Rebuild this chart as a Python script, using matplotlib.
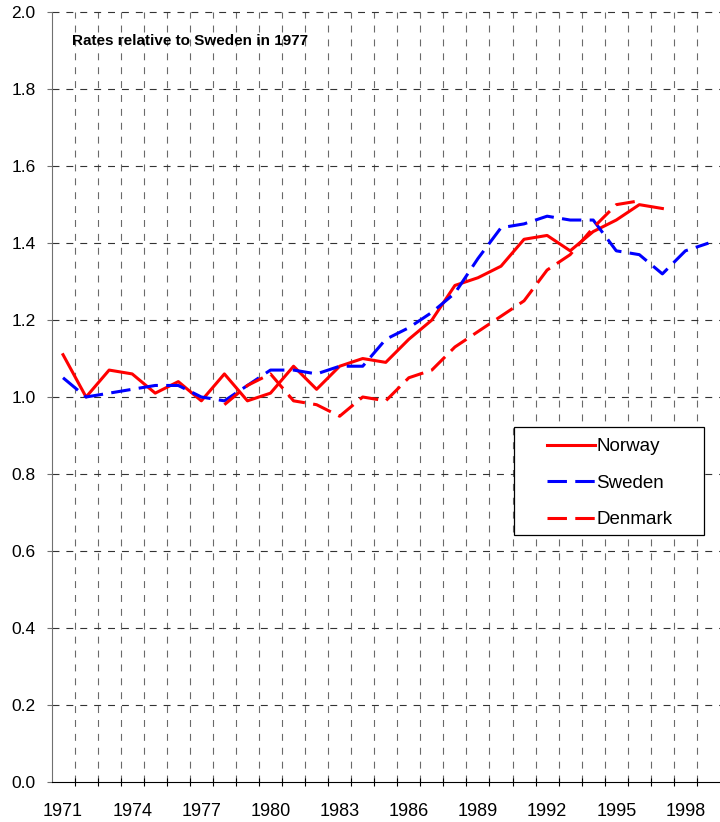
import numpy as np
import matplotlib
matplotlib.use("Agg")
from matplotlib import pyplot as plt
from matplotlib.patches import Rectangle

plt.rcParams["font.family"] = ["Liberation Sans", "DejaVu Sans"]
plt.rcParams["lines.scale_dashes"] = False

nan = np.nan
years = list(range(1971, 2000))
norway = [1.11, 1.00, 1.07, 1.06, 1.01, 1.04, 0.99, 1.06, 0.99, 1.01,
          1.08, 1.02, 1.08, 1.10, 1.09, 1.15, 1.20, 1.29, 1.31, 1.34,
          1.41, 1.42, 1.38, 1.43, 1.46, 1.50, 1.49, nan, nan]
sweden = [1.05, 1.00, 1.01, 1.02, 1.03, 1.03, 1.00, 0.99, 1.03, 1.07,
          1.07, 1.06, 1.08, 1.08, 1.15, 1.18, 1.22, 1.27, 1.36, 1.44,
          1.45, 1.47, 1.46, 1.46, 1.38, 1.37, 1.32, 1.38, 1.40]
denmark = [nan, nan, nan, nan, nan, nan, nan, 0.98, 1.03, 1.06,
           0.99, 0.98, 0.95, 1.00, 0.99, 1.05, 1.07, 1.13, 1.17, 1.21,
           1.25, 1.33, 1.37, 1.44, 1.50, 1.51, nan, nan, nan]
label_years = list(range(1971, 1999, 3))
y_ticks = [0.0, 0.2, 0.4, 0.6, 0.8, 1.0, 1.2, 1.4, 1.6, 1.8, 2.0]
note = "Rates relative to Sweden in 1977"

fig = plt.figure(figsize=(7.2, 8.22), dpi=100)
left, right = 51.5 / 720, 720 / 720
bottom, top = 1 - 781.7 / 822, 1 - 12.3 / 822
ax = fig.add_axes([left, bottom, right - left, top - bottom])

ax.set_xlim(years[0] - 0.5, years[-1] + 0.5)
ax.set_ylim(0, 2.0)

# grid lines, Excel style
for b in np.arange(years[0] + 0.5, years[-1], 1.0):
    ax.axvline(b, color="#6a6a6a", lw=0.8, dashes=(5, 5), zorder=1)
for v in y_ticks[1:]:
    ax.axhline(v, color="#333333", lw=0.8, dashes=(5, 5), zorder=1, clip_on=False)

lw = 2.2
ax.plot(years, norway, color="#ff0000", lw=lw, label="Norway", zorder=3)
ax.plot(years, sweden, color="#0000ff", lw=lw, dashes=(14, 6), label="Sweden", zorder=3)
ax.plot(years, denmark, color="#ff0000", lw=lw, dashes=(14, 6), label="Denmark", zorder=3)

for s in ["top", "right"]:
    ax.spines[s].set_visible(False)
ax.spines["left"].set_color("#707070")
ax.spines["bottom"].set_color("black")
ax.spines["left"].set_zorder(4)
ax.spines["bottom"].set_zorder(4)

ax.set_xticks(label_years)
ax.set_xticklabels([str(y) for y in label_years])
ax.set_xticks(np.arange(years[0] + 0.5, years[-1], 1.0), minor=True)
ax.tick_params(axis="x", which="major", length=0, pad=15, labelsize=13)
ax.tick_params(axis="x", which="minor", direction="inout", length=6, width=0.8, color="black")

ax.set_yticks(y_ticks)
ax.set_yticklabels(["%.1f" % v for v in y_ticks])
ax.tick_params(axis="y", direction="out", length=3.6, width=0.8, pad=8, labelsize=12.5,
               color="#707070")

ax.text(1971.37, 1.915, note, fontsize=11, fontweight="bold", va="baseline", ha="left", zorder=5)

# legend box
x0 = (514 - 51.5) / 668.5
x1 = (704 - 51.5) / 668.5
y0 = (781.7 - 535) / 769.4
y1 = (781.7 - 427) / 769.4
ax.add_patch(Rectangle((x0, y0), x1 - x0, y1 - y0, transform=ax.transAxes,
                       facecolor="white", edgecolor="black", lw=0.9, zorder=6))
leg = ax.legend(loc="upper left", bbox_to_anchor=((546.7 - 51.5) / 668.5, (781.7 - 438) / 769.4),
                frameon=False, borderpad=0, borderaxespad=0, fontsize=13.5,
                handlelength=2.56, handletextpad=0.1, labelspacing=1.04)
leg.set_zorder(7)

fig.savefig("out.png", dpi=100)
